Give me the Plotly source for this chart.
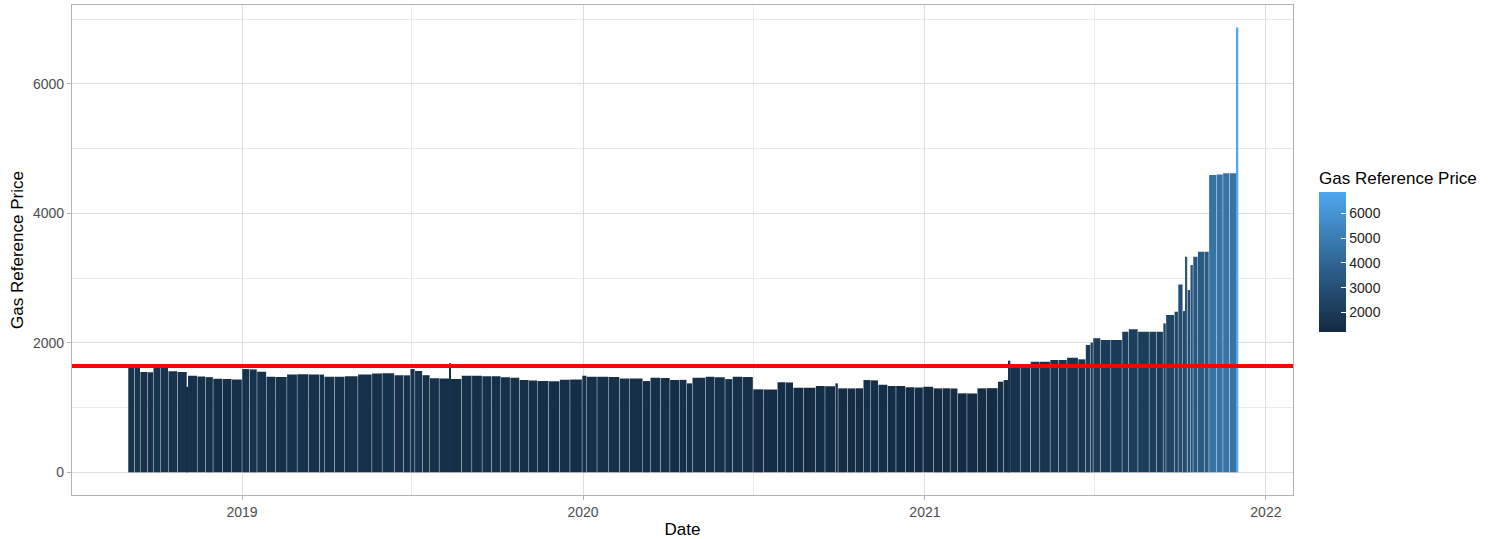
import plotly.graph_objects as go
import pandas as pd

# ---- data: price readings (segment start dates and values) ----
segment_starts = [
    "2018-09-01", "2018-09-08", "2018-09-14", "2018-09-22", "2018-09-28", "2018-10-06",
    "2018-10-14", "2018-10-24", "2018-11-03", "2018-11-04", "2018-11-14", "2018-11-23",
    "2018-12-01", "2018-12-11", "2018-12-21",
    "2019-01-01", "2019-01-09", "2019-01-17", "2019-01-27", "2019-02-06", "2019-02-18",
    "2019-03-01", "2019-03-13", "2019-03-25", "2019-03-30", "2019-04-10", "2019-04-21",
    "2019-05-05", "2019-05-20", "2019-05-31", "2019-06-13", "2019-06-23", "2019-06-30",
    "2019-07-05", "2019-07-13", "2019-07-21", "2019-07-31", "2019-08-11", "2019-08-12",
    "2019-08-24", "2019-09-04", "2019-09-15", "2019-09-25", "2019-10-05", "2019-10-15",
    "2019-10-25", "2019-11-04", "2019-11-13", "2019-11-25", "2019-12-07", "2019-12-18",
    "2019-12-31",
    "2020-01-05", "2020-01-16", "2020-01-28", "2020-02-09", "2020-02-20", "2020-03-05",
    "2020-03-13", "2020-03-24", "2020-04-03", "2020-04-13", "2020-04-21", "2020-04-27",
    "2020-05-11", "2020-05-21", "2020-06-01", "2020-06-09", "2020-06-20", "2020-07-01",
    "2020-07-12", "2020-07-27", "2020-08-05", "2020-08-13", "2020-08-24", "2020-09-06",
    "2020-09-16", "2020-09-27", "2020-09-30", "2020-10-10", "2020-10-19", "2020-10-27",
    "2020-11-04", "2020-11-12", "2020-11-22", "2020-12-01", "2020-12-11", "2020-12-21",
    "2020-12-30",
    "2021-01-10", "2021-01-20", "2021-01-28", "2021-02-05", "2021-02-15", "2021-02-26",
    "2021-03-08", "2021-03-20", "2021-03-26", "2021-04-01", "2021-04-02", "2021-04-13",
    "2021-04-24", "2021-05-04", "2021-05-15", "2021-05-24", "2021-06-02", "2021-06-14",
    "2021-06-22", "2021-06-27", "2021-06-30", "2021-07-08", "2021-07-19", "2021-07-31",
    "2021-08-07", "2021-08-17", "2021-08-29", "2021-09-06", "2021-09-13", "2021-09-16",
    "2021-09-25", "2021-09-29", "2021-10-04", "2021-10-07", "2021-10-09", "2021-10-12",
    "2021-10-15", "2021-10-20", "2021-10-27", "2021-11-01", "2021-11-09", "2021-11-16",
    "2021-11-23", "2021-12-01",
]
segment_values = [
    1635, 1625, 1550, 1545, 1625, 1620,
    1560, 1550, 1320, 1490, 1480, 1470,
    1445, 1440, 1435,
    1595, 1590, 1555, 1478, 1472, 1510,
    1515, 1512, 1510, 1478, 1475, 1485,
    1512, 1528, 1530, 1500, 1498, 1595,
    1565, 1500, 1452, 1448, 1683, 1440,
    1492, 1490, 1485, 1483, 1470, 1461,
    1425, 1420, 1410, 1408, 1430, 1432,
    1492,
    1476, 1478, 1472, 1450, 1448, 1410,
    1461, 1458, 1425, 1428, 1374, 1461,
    1476, 1470, 1440, 1476, 1474, 1282,
    1280, 1390, 1388, 1307, 1305, 1332,
    1330, 1374, 1297, 1296, 1298, 1425,
    1420, 1354, 1333, 1335, 1313, 1312,
    1323,
    1297, 1298, 1295, 1220, 1218, 1297,
    1300, 1400, 1425, 1724, 1631, 1630,
    1708, 1706, 1734, 1736, 1770, 1745,
    1966, 2002, 2069, 2043, 2045, 2171,
    2208, 2171, 2170, 2172, 2300, 2429,
    2480, 2900, 2490, 3330, 2815, 3201,
    3330, 3407, 3407, 4591, 4600, 4618,
    4620, 6870,
]
series_end = "2021-12-02"
reference_price = 1644

y_ticks = [0, 2000, 4000, 6000]
colorbar_ticks = [2000, 3000, 4000, 5000, 6000]

# ---- ggplot-like gradient (Lab interpolation, dark navy -> light blue) ----
def hex_to_rgb(h):
    h = h.lstrip("#")
    return [int(h[i:i + 2], 16) / 255 for i in (0, 2, 4)]

def rgb_to_lab(rgb):
    def lin(c):
        return c / 12.92 if c <= 0.04045 else ((c + 0.055) / 1.055) ** 2.4
    r, g, b = [lin(c) for c in rgb]
    x = (0.4124 * r + 0.3576 * g + 0.1805 * b) / 0.95047
    y = (0.2126 * r + 0.7152 * g + 0.0722 * b)
    z = (0.0193 * r + 0.1192 * g + 0.9505 * b) / 1.08883
    def f(t):
        return t ** (1 / 3) if t > 0.008856 else 7.787 * t + 16 / 116
    fx, fy, fz = f(x), f(y), f(z)
    return [116 * fy - 16, 500 * (fx - fy), 200 * (fy - fz)]

def lab_to_hex(lab):
    L, a, b = lab
    fy = (L + 16) / 116
    fx = fy + a / 500
    fz = fy - b / 200
    def finv(t):
        return t ** 3 if t ** 3 > 0.008856 else (t - 16 / 116) / 7.787
    x, y, z = finv(fx) * 0.95047, finv(fy), finv(fz) * 1.08883
    r = 3.2406 * x - 1.5372 * y - 0.4986 * z
    g = -0.9689 * x + 1.8758 * y + 0.0415 * z
    bb = 0.0557 * x - 0.2040 * y + 1.0570 * z
    def gam(c):
        c = max(0.0, min(1.0, c))
        return 12.92 * c if c <= 0.0031308 else 1.055 * c ** (1 / 2.4) - 0.055
    return "#%02x%02x%02x" % tuple(int(round(gam(c) * 255)) for c in (r, g, bb))

low_lab = rgb_to_lab(hex_to_rgb("#132B43"))
high_lab = rgb_to_lab(hex_to_rgb("#50A8F0"))
colorscale = []
for i in range(11):
    t = i / 10
    colorscale.append([t, lab_to_hex([lo + (hi - lo) * t for lo, hi in zip(low_lab, high_lab)])])

# ---- bar geometry from the dates ----
DAY_MS = 86400000
starts = pd.to_datetime(pd.Series(segment_starts))
ends = pd.concat([starts.iloc[1:], pd.Series(pd.to_datetime([series_end]))], ignore_index=True)
durations = ends - starts
mids = starts + durations / 2
widths = []
for d in durations:
    days = d.total_seconds() / 86400
    if days <= 1.0:
        widths.append(1.8 * DAY_MS)           # single-day readings: thin visible bar
    else:
        widths.append((days - 0.45) * DAY_MS)  # faint seam between readings

font_family = "Liberation Sans, Arial, Helvetica, sans-serif"

fig = go.Figure()
fig.add_trace(go.Bar(
    x=mids,
    y=segment_values,
    width=widths,
    marker=dict(
        color=segment_values,
        colorscale=colorscale,
        cmin=min(segment_values),
        cmax=max(segment_values),
        line=dict(width=0),
        showscale=True,
        colorbar=dict(
            title=dict(text="Gas Reference Price", side="top",
                       font=dict(size=17, color="black", family=font_family)),
            thickness=27, len=164, lenmode="pixels",
            x=1.0213, xanchor="left", y=0.6678, yanchor="top",
            xpad=0, ypad=0, outlinewidth=0,
            tickvals=colorbar_ticks, ticks="inside", ticklen=5,
            tickcolor="white", tickwidth=1,
            tickfont=dict(size=14, color="#222222", family=font_family),
        ),
    ),
    hoverinfo="skip",
))

fig.add_shape(type="line", xref="paper", x0=0, x1=1, yref="y",
              y0=reference_price, y1=reference_price,
              line=dict(color="red", width=4))

grid_major = "#DEDEDE"
grid_minor = "#EBEBEB"
border = "#B3B3B3"

fig.update_layout(
    width=1499, height=539,
    margin=dict(l=72, r=206, t=5, b=44),
    paper_bgcolor="white", plot_bgcolor="white",
    font=dict(family=font_family),
    showlegend=False,
    bargap=0.1,
)
fig.update_xaxes(
    type="date",
    range=["2018-07-03", "2022-01-30"],
    dtick="M12", tick0="2019-01-01", tickformat="%Y",
    showgrid=True, gridcolor=grid_major, gridwidth=1.1,
    minor=dict(dtick="M6", tick0="2018-07-01", showgrid=True,
               gridcolor=grid_minor, gridwidth=0.7, ticklen=0),
    showline=True, mirror=True, linecolor=border, linewidth=1.3,
    ticks="outside", ticklen=4, tickcolor=border, tickwidth=1.3,
    tickfont=dict(size=14, color="#4D4D4D"),
    title=dict(text="Date", font=dict(size=17, color="black"), standoff=4),
    zeroline=False, automargin=False,
)
fig.update_yaxes(
    range=[-350, 7217],
    tickvals=y_ticks,
    showgrid=True, gridcolor=grid_major, gridwidth=1.1,
    minor=dict(dtick=1000, tick0=0, showgrid=True,
               gridcolor=grid_minor, gridwidth=0.7, ticklen=0),
    showline=True, mirror=True, linecolor=border, linewidth=1.3,
    ticks="outside", ticklen=4, tickcolor=border, tickwidth=1.3,
    tickfont=dict(size=14, color="#4D4D4D"),
    title=dict(text="Gas Reference Price", font=dict(size=17, color="black"), standoff=4),
    zeroline=False, automargin=False,
)

fig.write_html("out.html", config={"displayModeBar": False},
               post_script="document.body.style.margin='0';")
